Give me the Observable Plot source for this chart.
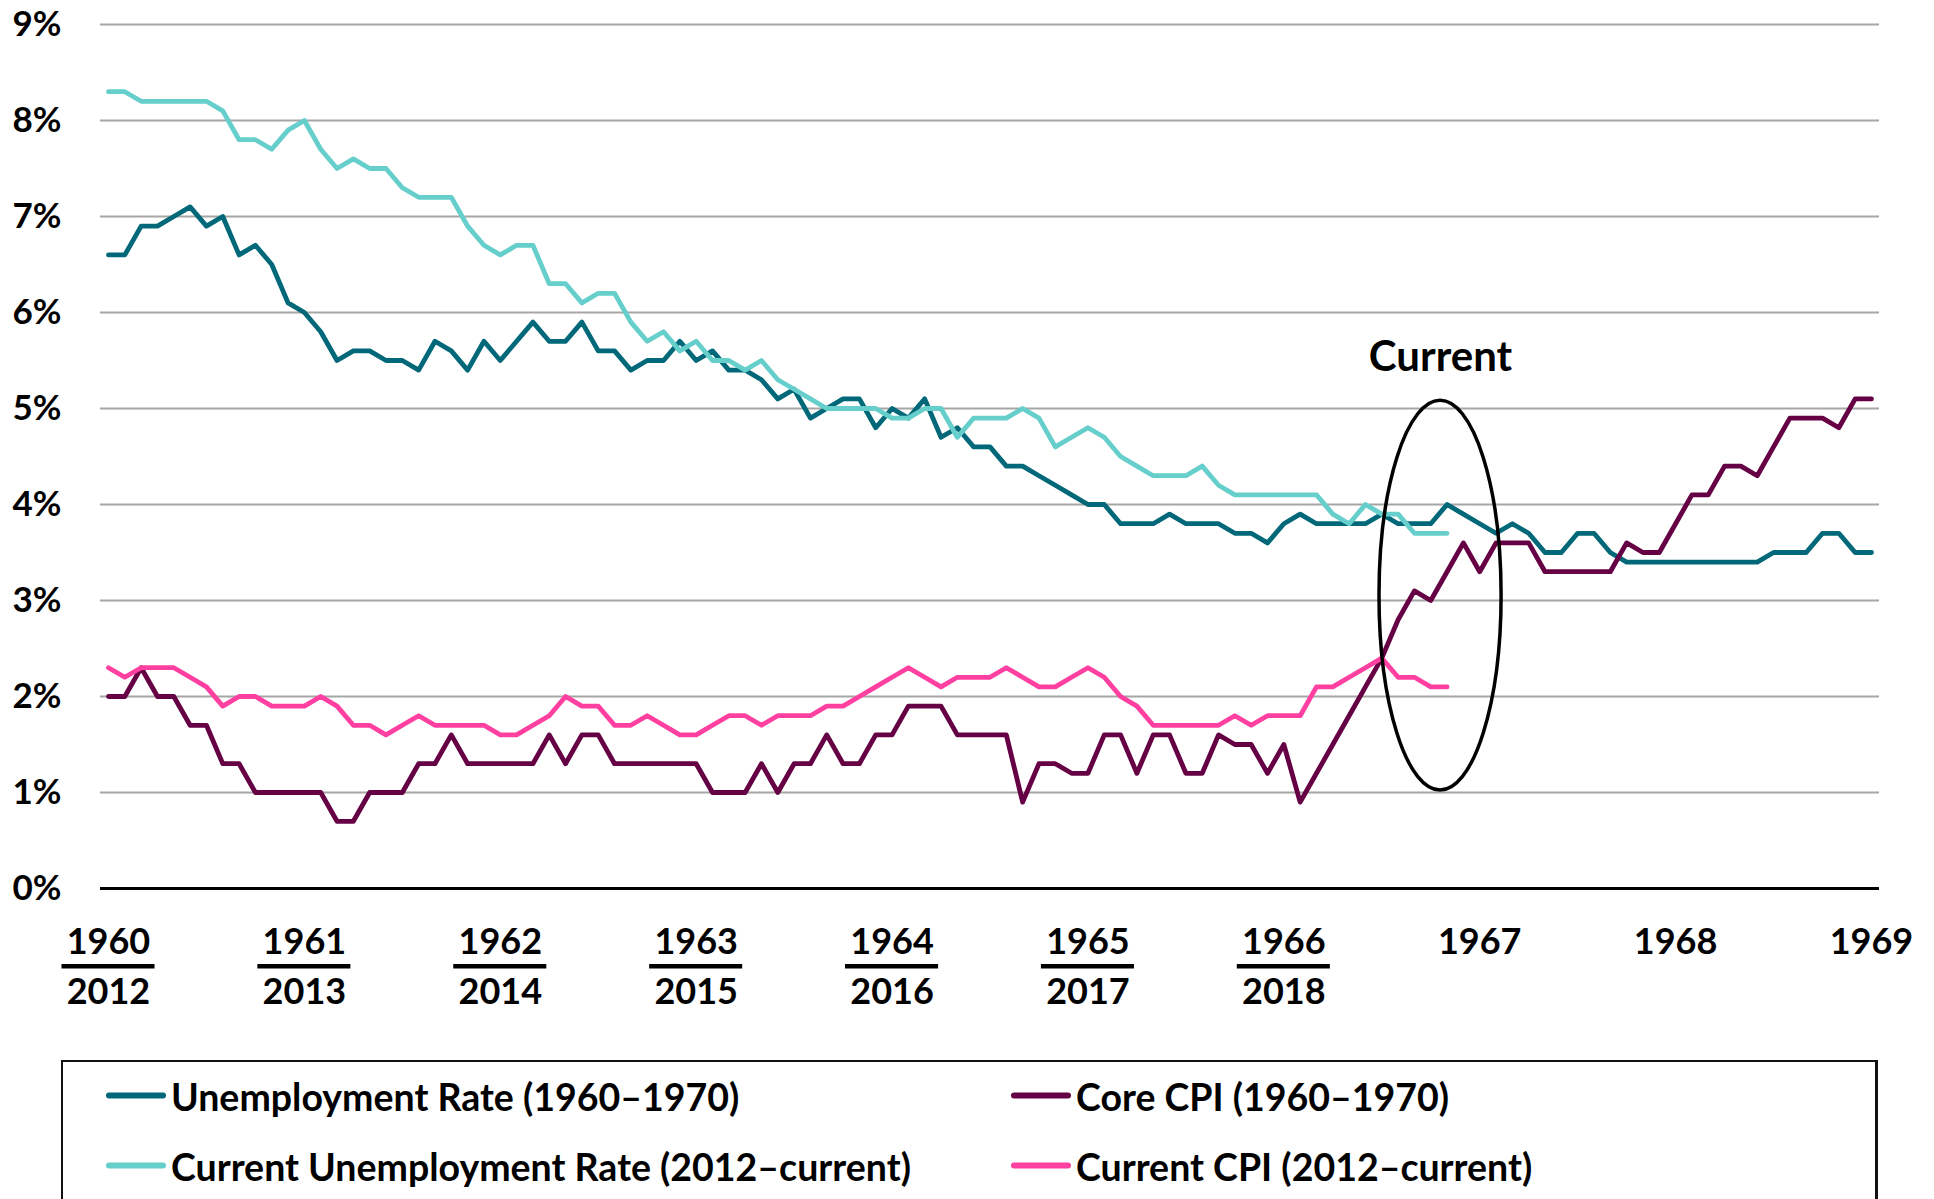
<!DOCTYPE html>
<html><head><meta charset="utf-8">
<script src="https://cdn.jsdelivr.net/npm/d3@7"></script>
<script src="https://cdn.jsdelivr.net/npm/@observablehq/plot@0.6"></script>
<style>
html,body{margin:0;padding:0;background:#fff;width:1934px;height:1199px;overflow:hidden;font-family:Lato,"Open Sans",sans-serif;}
#chart{position:absolute;left:0;top:0;}
#legend{position:absolute;left:61px;top:1060px;width:1817px;height:220px;border:2px solid #111;border-right-width:3px;box-sizing:border-box;background:#fff;}
.item{position:absolute;display:flex;align-items:center;font-weight:700;font-size:37.5px;color:#000;transform:translateY(-50%);white-space:nowrap;}
.sw{width:60px;height:6px;border-radius:3px;margin-right:5px;}
</style></head><body>
<div id="chart"></div><div id="legend"></div>
<script>
// ---- Data (monthly values, % ) ----
const unemp60 = [6.6,6.6,6.9,6.9,7.0,7.1,6.9,7.0,6.6,6.7,6.5,6.1,6.0,
  5.8,5.5,5.6,5.6,5.5,5.5,5.4,5.7,5.6,5.4,5.7,5.5,
  5.7,5.9,5.7,5.7,5.9,5.6,5.6,5.4,5.5,5.5,5.7,5.5,
  5.6,5.4,5.4,5.3,5.1,5.2,4.9,5.0,5.1,5.1,4.8,5.0,
  4.9,5.1,4.7,4.8,4.6,4.6,4.4,4.4,4.3,4.2,4.1,4.0,
  4.0,3.8,3.8,3.8,3.9,3.8,3.8,3.8,3.7,3.7,3.6,3.8,
  3.9,3.8,3.8,3.8,3.8,3.9,3.8,3.8,3.8,4.0,3.9,3.8,
  3.7,3.8,3.7,3.5,3.5,3.7,3.7,3.5,3.4,3.4,3.4,3.4,
  3.4,3.4,3.4,3.4,3.4,3.5,3.5,3.5,3.7,3.7,3.5,3.5];
const core60 = [2.0,2.0,2.3,2.0,2.0,1.7,1.7,1.3,1.3,1.0,1.0,1.0,1.0,
  1.0,0.7,0.7,1.0,1.0,1.0,1.3,1.3,1.6,1.3,1.3,1.3,
  1.3,1.3,1.6,1.3,1.6,1.6,1.3,1.3,1.3,1.3,1.3,1.3,
  1.0,1.0,1.0,1.3,1.0,1.3,1.3,1.6,1.3,1.3,1.6,1.6,
  1.9,1.9,1.9,1.6,1.6,1.6,1.6,0.9,1.3,1.3,1.2,1.2,
  1.6,1.6,1.2,1.6,1.6,1.2,1.2,1.6,1.5,1.5,1.2,1.5,
  0.9,1.2,1.5,1.8,2.1,2.4,2.8,3.1,3.0,3.3,3.6,3.3,
  3.6,3.6,3.6,3.3,3.3,3.3,3.3,3.3,3.6,3.5,3.5,3.8,
  4.1,4.1,4.4,4.4,4.3,4.6,4.9,4.9,4.9,4.8,5.1,5.1];
const unempNow = [8.3,8.3,8.2,8.2,8.2,8.2,8.2,8.1,7.8,7.8,7.7,7.9,
  8.0,7.7,7.5,7.6,7.5,7.5,7.3,7.2,7.2,7.2,6.9,6.7,
  6.6,6.7,6.7,6.3,6.3,6.1,6.2,6.2,5.9,5.7,5.8,5.6,
  5.7,5.5,5.5,5.4,5.5,5.3,5.2,5.1,5.0,5.0,5.0,5.0,
  4.9,4.9,5.0,5.0,4.7,4.9,4.9,4.9,5.0,4.9,4.6,4.7,
  4.8,4.7,4.5,4.4,4.3,4.3,4.3,4.4,4.2,4.1,4.1,4.1,
  4.1,4.1,4.1,3.9,3.8,4.0,3.9,3.9,3.7,3.7,3.7];
const cpiNow = [2.3,2.2,2.3,2.3,2.3,2.2,2.1,1.9,2.0,2.0,1.9,1.9,
  1.9,2.0,1.9,1.7,1.7,1.6,1.7,1.8,1.7,1.7,1.7,1.7,
  1.6,1.6,1.7,1.8,2.0,1.9,1.9,1.7,1.7,1.8,1.7,1.6,
  1.6,1.7,1.8,1.8,1.7,1.8,1.8,1.8,1.9,1.9,2.0,2.1,
  2.2,2.3,2.2,2.1,2.2,2.2,2.2,2.3,2.2,2.1,2.1,2.2,
  2.3,2.2,2.0,1.9,1.7,1.7,1.7,1.7,1.7,1.8,1.7,1.8,
  1.8,1.8,2.1,2.1,2.2,2.3,2.4,2.2,2.2,2.1,2.1];

const topLabels = ["1960","1961","1962","1963","1964","1965","1966","1967","1968","1969"];
const bottomLabels = ["2012","2013","2014","2015","2016","2017","2018"];
const yTicks = [0,1,2,3,4,5,6,7,8,9];
const seriesNames = ["Unemployment Rate (1960\u20131970)","Core CPI (1960\u20131970)",
  "Current Unemployment Rate (2012\u2013current)","Current CPI (2012\u2013current)"];
const seriesColors = ["#006878","#660044","#66CFCB","#FF40A0"];
const calloutLabel = "Current";
const calloutMonth = 81.6, calloutValue = 3.05, calloutRx = 3.74, calloutRy = 2.03, calloutTextValue = 5.53;

const rows = arr => arr.map((v,i)=>({i, v}));
const lineOpts = c => ({x:"i", y:"v", stroke:c, strokeWidth:4.8, strokeLinejoin:"round", strokeLinecap:"round"});
const bold = {fontSize:36, fontWeight:700, fill:"#000"};

const plot = Plot.plot({
  width: 1934, height: 1040,
  marginLeft: 100, marginRight: 55, marginTop: 24, marginBottom: 152,
  x: {domain:[0,108], insetLeft:8, insetRight:8, axis:null},
  y: {domain:[0,9], axis:null},
  style: {fontFamily:"Lato, 'Open Sans', sans-serif", background:"white", overflow:"visible"},
  marks: [
    Plot.ruleY(yTicks.filter(d=>d>0), {stroke:"#a6a6a6", strokeWidth:2}),
    Plot.ruleY([0], {stroke:"#000", strokeWidth:3}),
    Plot.text(yTicks, {y:d=>d, text:d=>`${d}%`, frameAnchor:"left", textAnchor:"end", dx:-39, ...bold, fontSize:35}),
    Plot.line(rows(unemp60), lineOpts(seriesColors[0])),
    Plot.line(rows(core60), lineOpts(seriesColors[1])),
    Plot.line(rows(unempNow), lineOpts(seriesColors[2])),
    Plot.line(rows(cpiNow), lineOpts(seriesColors[3])),
    Plot.text(topLabels, {x:(d,k)=>k*12, text:d=>d, frameAnchor:"bottom", lineAnchor:"middle", dy:53.5, ...bold}),
    Plot.ruleY(bottomLabels, {x1:(d,k)=>k*12-2.85, x2:(d,k)=>k*12+2.85, y:()=>0, dy:77.7, stroke:"#000", strokeWidth:4.5}),
    Plot.text(bottomLabels, {x:(d,k)=>k*12, text:d=>d, frameAnchor:"bottom", lineAnchor:"middle", dy:104, ...bold}),
    Plot.text([calloutLabel], {x:()=>calloutMonth, y:()=>calloutTextValue, text:d=>d, ...bold, fontSize:42})
  ]
});

// callout ellipse positioned through the plot's scales
const sx = plot.scale("x"), sy = plot.scale("y");
const cx = sx.apply(calloutMonth), cy = sy.apply(calloutValue);
const rx = sx.apply(calloutMonth + calloutRx) - cx;
const ry = sy.apply(calloutValue - calloutRy) - cy;
d3.select(plot).append("ellipse")
  .attr("cx", cx).attr("cy", cy).attr("rx", rx).attr("ry", ry)
  .attr("fill","none").attr("stroke","#000").attr("stroke-width",3.5);

document.getElementById("chart").appendChild(plot);

// legend
const legend = d3.select("#legend");
const pos = [[43,33.7],[948,33.7],[43,103.7],[948,103.7]];
seriesNames.forEach((name,k)=>{
  const it = legend.append("div").attr("class","item")
    .style("left", pos[k][0]+"px").style("top", pos[k][1]+"px");
  it.append("div").attr("class","sw").style("background", seriesColors[k]);
  it.append("span").text(name);
});
</script></body></html>
